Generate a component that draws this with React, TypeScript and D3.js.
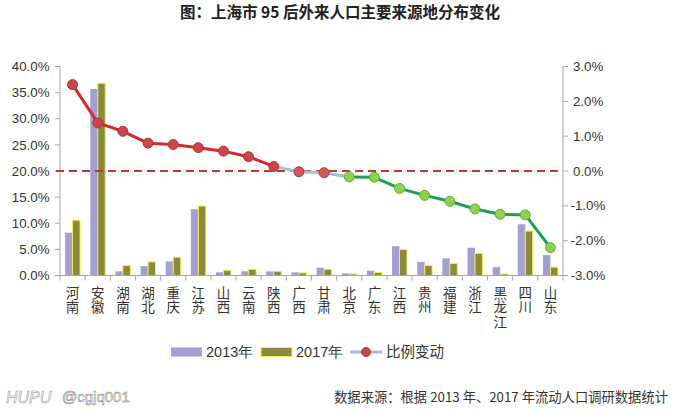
import React from "react";
import * as d3 from "d3";

const categories = ["河南","安徽","湖南","湖北","重庆","江苏","山西","云南","陕西","广西","甘肃","北京","广东","江西","贵州","福建","浙江","黑龙江","四川","山东"];
const share2013 = [8.2,35.7,0.8,1.8,2.7,12.7,0.6,0.8,0.8,0.6,1.5,0.4,0.9,5.6,2.6,3.3,5.3,1.6,9.8,3.9];
const share2017 = [10.6,36.8,1.9,2.6,3.5,13.3,1.0,1.2,0.8,0.5,1.2,0.3,0.6,5.0,1.9,2.3,4.2,0.3,8.5,1.6];
const change = [2.48,1.38,1.14,0.80,0.76,0.67,0.57,0.41,0.13,-0.02,-0.05,-0.17,-0.18,-0.50,-0.70,-0.87,-1.09,-1.24,-1.26,-2.20];
const leftTicks = [0,5,10,15,20,25,30,35,40];
const rightTicks = [-3,-2,-1,0,1,2,3];
const seriesNames = ["2013年","2017年","比例变动"];
const title = "图：上海市 95 后外来人口主要来源地分布变化";
const source = "数据来源：根据 2013 年、2017 年流动人口调研数据统计";

const W = 675, H = 412;
const left = 60, right = 563, top = 66.5, bottom = 275.5;
const font = "'Liberation Sans', Arial, sans-serif";
const cjk = "'Noto Sans CJK SC', 'Noto Sans', sans-serif";

export default function App() {
  const x = d3.scaleBand<string>().domain(categories).range([left, right]).padding(0);
  const xs = d3.scaleBand<string>().domain(["a","b"]).range([0, x.bandwidth()]).paddingInner(0).paddingOuter(0.68);
  const yL = d3.scaleLinear().domain([0, 40]).range([bottom, top]);
  const yR = d3.scaleLinear().domain([-3, 3]).range([bottom, top]);
  const cx = (i: number) => (x(categories[i]) as number) + x.bandwidth() / 2;
  const seg = (from: number, to: number) => {
    const idx = d3.range(from, to + 1);
    return d3.line<number>().x(i => cx(i)).y(i => yR(change[i]))(idx) || "";
  };
  const axisColor = "#a6a6a6";
  const textColor = "#333";

  return (
    <svg width={W} height={H} style={{ position: "absolute", left: 0, top: 0, background: "#fff" }}>
      <rect x={0} y={0} width={W} height={H} fill="#fff" />
      <text x={340} y={18} textAnchor="middle" fontFamily={cjk} fontWeight="bold" fontSize={15.5} fill="#222">{title}</text>

      {/* bars */}
      {categories.map((c, i) => (
        <g key={c}>
          <rect x={(x(c) as number) + (xs("a") as number)} y={yL(share2013[i])} width={xs.bandwidth()} height={bottom - yL(share2013[i])} fill="#a49fd2" />
          <rect x={(x(c) as number) + (xs("b") as number)} y={yL(share2017[i])} width={xs.bandwidth()} height={bottom - yL(share2017[i])} fill="#8b893d" stroke="#f3f04c" strokeWidth={1} />
        </g>
      ))}

      {/* left axis */}
      <line x1={left} x2={left} y1={top} y2={bottom} stroke={axisColor} />
      {leftTicks.map(t => (
        <g key={"l" + t}>
          <line x1={left - 5} x2={left} y1={yL(t)} y2={yL(t)} stroke={axisColor} />
          <text x={49.5} y={yL(t)} dy="0.35em" textAnchor="end" fontFamily={font} fontSize={13.3} fill={textColor}>{t.toFixed(1) + "%"}</text>
        </g>
      ))}
      {/* right axis */}
      <line x1={right} x2={right} y1={top} y2={bottom} stroke={axisColor} />
      {rightTicks.map(t => (
        <g key={"r" + t}>
          <line x1={right} x2={right + 5} y1={yR(t)} y2={yR(t)} stroke={axisColor} />
          <text x={t < 0 ? 570.5 : 573} y={yR(t)} dy="0.35em" textAnchor="start" fontFamily={font} fontSize={13.3} fill={textColor}>{t.toFixed(1) + "%"}</text>
        </g>
      ))}
      {/* bottom axis */}
      <line x1={left} x2={right} y1={bottom} y2={bottom} stroke={axisColor} />
      {d3.range(categories.length + 1).map(i => {
        const xx = left + i * x.bandwidth();
        return <line key={"b" + i} x1={xx} x2={xx} y1={bottom} y2={bottom + 5} stroke={axisColor} />;
      })}
      {categories.map((c, i) => (
        <text key={"c" + c} x={cx(i)} y={286} fontFamily={cjk} fontSize={13.5} fill={textColor}
          style={{ writingMode: "vertical-rl", textOrientation: "upright", letterSpacing: "1px" } as any}>
          {c}
        </text>
      ))}

      {/* zero reference dashed line */}
      <line x1={56} x2={right} y1={yR(0)} y2={yR(0)} stroke="#c0392b" strokeWidth={2} strokeDasharray="8,5" />

      {/* change line */}
      <path d={seg(8, 11)} fill="none" stroke="#a4bddb" strokeWidth={3} />
      <path d={seg(0, 8)} fill="none" stroke="#d42a2a" strokeWidth={3} strokeLinejoin="round" />
      <path d={seg(11, 19)} fill="none" stroke="#1f9e55" strokeWidth={3} strokeLinejoin="round" />
      {change.map((v, i) => (
        <circle key={"m" + i} cx={cx(i)} cy={yR(v)} r={5}
          fill={i <= 10 ? (i >= 9 ? "#d0565a" : "#c9474b") : "#8fd050"}
          stroke={i <= 10 ? "#b83236" : "#5faf35"} strokeWidth={1} />
      ))}

      {/* legend */}
      <rect x={171} y={347.5} width={31} height={9} fill="#a49fd2" />
      <text x={206} y={352} dy="0.35em" fontFamily={font} fontSize={14.5} fill={textColor}>{seriesNames[0]}</text>
      <rect x={261} y={347.5} width={31} height={9} fill="#8b893d" stroke="#f3f04c" strokeWidth={1} />
      <text x={296} y={352} dy="0.35em" fontFamily={font} fontSize={14.5} fill={textColor}>{seriesNames[1]}</text>
      <line x1={350} x2={382} y1={352} y2={352} stroke="#a4bddb" strokeWidth={3} />
      <circle cx={366} cy={352} r={4.5} fill="#c9474b" stroke="#b83236" />
      <text x={386} y={352} dy="0.35em" fontFamily={cjk} fontSize={14.5} fill={textColor}>{seriesNames[2]}</text>

      {/* footer */}
      <text x={6} y={397} dy="0.35em" fontFamily={font} fontStyle="italic" fontSize={16} fill="#fff" stroke="#888" strokeWidth={0.5}>HUPU</text>
      <text x={62} y={397} dy="0.35em" fontFamily={font} fontSize={15} fill="#fff" stroke="#777" strokeWidth={0.5}>@cgjq001</text>
      <text x={668} y={397} dy="0.35em" textAnchor="end" fontFamily={cjk} fontSize={13.3} fill={textColor}>{source}</text>
    </svg>
  );
}
